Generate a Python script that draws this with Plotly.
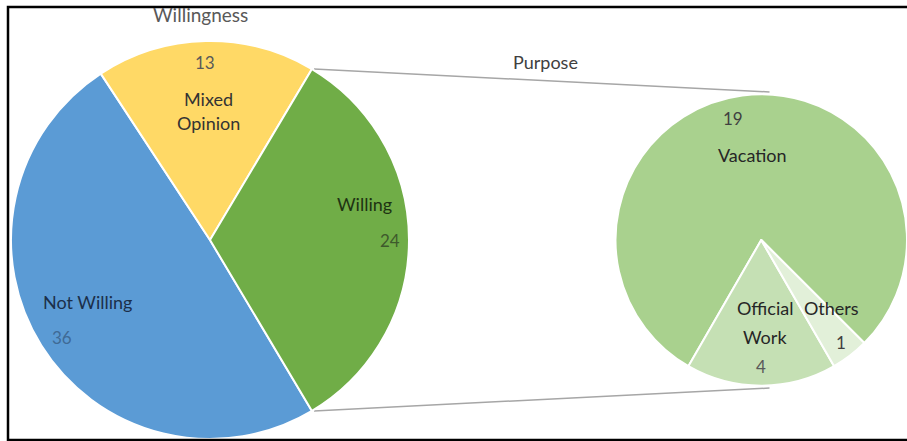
import math
import plotly.graph_objects as go

# Willingness to travel (main pie) and purpose of the "Willing" group (secondary pie)
willing_labels = ["Not Willing", "Mixed Opinion", "Willing"]
willing_values = [36, 13, 24]
willing_colors = ["#5B9BD5", "#FFD966", "#70AD47"]

purpose_labels = ["Vacation", "Official Work", "Others"]
purpose_values = [19, 4, 1]
purpose_colors = ["#A9D18E", "#C5E0B4", "#E2F0D9"]

W, H = 907, 441
FONT = "Lato, 'Open Sans', sans-serif"


def px(x):
    return x / W


def py(y):
    return 1 - y / H


# Pie geometry in pixels (centre, radius)
c1x, c1y, r1 = 210, 240, 199
c2x, c2y, r2 = 761.5, 240, 146

# Angular size of the "Willing" slice; it is centred at 3 o'clock
total1 = sum(willing_values)
willing_deg = willing_values[2] / total1 * 360
rot1 = 90 + willing_deg / 2

# Secondary pie: "Official Work" centred at 6 o'clock. In counterclockwise
# mode the first slice spans [rotation, rotation + its angle] clockwise.
total2 = sum(purpose_values)
official_deg = purpose_values[1] / total2 * 360
rot2 = 180 + official_deg / 2

fig = go.Figure()
fig.add_trace(go.Pie(
    labels=willing_labels, values=willing_values, sort=False,
    direction="clockwise", rotation=rot1,
    marker=dict(colors=willing_colors, line=dict(color="white", width=2)),
    textinfo="none", hoverinfo="label+value", showlegend=False,
    domain=dict(x=[px(c1x - r1), px(c1x + r1)], y=[py(c1y + r1), py(c1y - r1)]),
))
fig.add_trace(go.Pie(
    labels=purpose_labels, values=purpose_values, sort=False,
    direction="counterclockwise", rotation=rot2,
    marker=dict(colors=purpose_colors, line=dict(color="white", width=2)),
    textinfo="none", hoverinfo="label+value", showlegend=False,
    domain=dict(x=[px(c2x - r2), min(1, px(c2x + r2))], y=[py(c2y + r2), py(c2y - r2)]),
))

# Connector lines from the edges of the "Willing" slice to the secondary pie
shapes = []
for ang, ty in ((90 - willing_deg / 2, c2y - r2), (90 + willing_deg / 2, c2y + r2)):
    a = math.radians(ang)
    sx = c1x + r1 * math.sin(a)
    sy = c1y - r1 * math.cos(a)
    shapes.append(dict(type="line", xref="paper", yref="paper",
                       x0=px(sx + 2), y0=py(sy), x1=px(c2x + 8), y1=py(ty - 2 if ty < c2y else ty + 2),
                       line=dict(color="#A6A6A6", width=1.5), layer="below"))

# Outer frame
shapes.append(dict(type="rect", xref="paper", yref="paper",
                   x0=px(8), x1=px(W + 5), y0=py(440), y1=py(7),
                   line=dict(color="black", width=2.5)))

annotations = []


def note(text, x, y, color="#262626", size=18):
    annotations.append(dict(text=text, x=px(x), y=py(y), xref="paper", yref="paper",
                            showarrow=False, xanchor="center", yanchor="middle",
                            font=dict(family=FONT, size=size, color=color)))


# Titles
note("Willingness", 200, 14, color="#595959", size=19)
note("Purpose", 545, 62, color="#404040", size=18)

# Main pie labels
note(f"{willing_values[1]}", 205, 63, color="#595959", size=17)
note("Mixed", 208, 99, color="#333333")
note("Opinion", 208, 123, color="#333333")
note(willing_labels[2], 364, 204, color="#1E3312")
note(f"{willing_values[2]}", 390, 240, color="#3E5A2C", size=17)
note(willing_labels[0], 87, 302, color="#1B2F4A")
note(f"{willing_values[0]}", 62, 337, color="#3F6A96", size=17)

# Secondary pie labels
note(f"{purpose_values[0]}", 733, 119, color="#404040", size=17)
note(purpose_labels[0], 752, 155, color="#262626")
note("Official", 765, 308, color="#262626")
note("Work", 765, 337, color="#262626")
note(f"{purpose_values[1]}", 761, 366, color="#595959", size=17)
note(purpose_labels[2], 831, 308, color="#262626")
note(f"{purpose_values[2]}", 841, 342, color="#404040", size=17)

fig.update_layout(
    width=W, height=H, margin=dict(l=0, r=0, t=0, b=0),
    paper_bgcolor="white", plot_bgcolor="white",
    shapes=shapes, annotations=annotations,
)

fig.write_html("out.html")
